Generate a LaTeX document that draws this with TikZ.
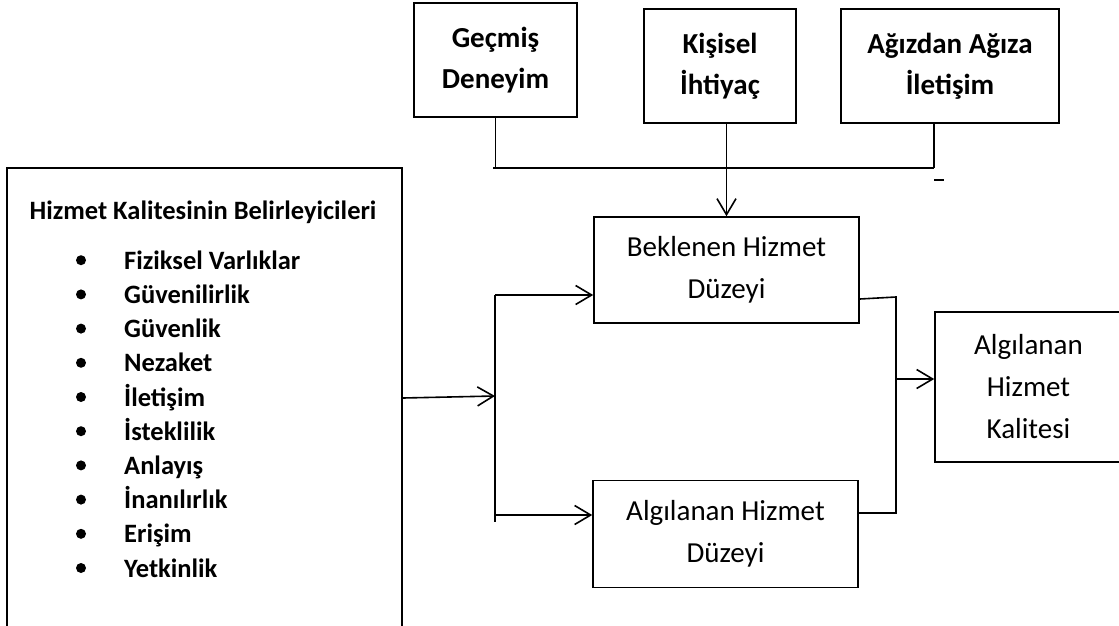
\documentclass[tikz,border=0pt]{standalone}
\usepackage{fontspec}
\setmainfont{Carlito}
\usetikzlibrary{arrows.meta, positioning, calc}
\tikzset{
  box/.style={rectangle, draw=black, line width=1.6pt, align=center, inner sep=0pt, font=\fontsize{29}{42}\selectfont},
  topbox/.style={box, font=\bfseries\fontsize{29}{41}\selectfont},
  item/.style={anchor=base west, inner sep=0pt, font=\bfseries\fontsize{26.5}{32}\selectfont},
  line/.style={line width=1.6pt},
  arrow/.style={line, -{Straight Barb[length=16pt, width=19pt, line width=1.6pt]}}
}
\begin{document}
\begin{tikzpicture}[x=1pt, y=-1pt]
\useasboundingbox (0,0) rectangle (1119,625);
% top row
\node (gecmis) [topbox, minimum width=163pt, minimum height=114pt] at (495.5,60) {Geçmiş\\Deneyim};
\node (kisisel) [topbox, minimum width=152pt, minimum height=114pt] at (720,66) {Kişisel\\İhtiyaç};
\node (agiz) [topbox, minimum width=218pt, minimum height=114pt] at (950,66) {Ağızdan Ağıza\\İletişim};

% middle boxes
\node (beklenen) [box, minimum width=265pt, minimum height=106pt] at (726.5,270) {Beklenen Hizmet\\Düzeyi};
\node (algdz) [box, minimum width=265pt, minimum height=107pt] at (725.5,534) {Algılanan Hizmet\\Düzeyi};
\node (kalite) [box, minimum width=187pt, minimum height=150pt] at (1028.5,387) {Algılanan\\Hizmet\\Kalitesi};

% left box with list
\node (belir) [box, minimum width=395pt, minimum height=472pt] at (204.5,404) {};
\node (baslik) [font=\bfseries\fontsize{26.5}{32}\selectfont, inner sep=0pt] at (203,212) {Hizmet Kalitesinin Belirleyicileri};
\foreach \ad [count=\i] in {Fiziksel Varlıklar, Güvenilirlik, Güvenlik, Nezaket, İletişim, İsteklilik, Anlayış, İnanılırlık, Erişim, Yetkinlik} {
  \fill (81, 226+34.2*\i) circle (5pt);
  \node (m\i) [item] at (124, 235+34.2*\i) {\ad};
}

% joins
\coordinate (hl) at (493,168);
\coordinate (hr) at (934,168);
\draw[line] (hl) -- (hr);
\draw[line] (gecmis.south) -- (gecmis.south |- hl);
\draw[line] (hr |- agiz.south) -- (hr);
\coordinate (dash) at (934,180);
\draw[line] (dash) -- ++(10,0);
\draw[arrow] (beklenen.north |- kisisel.south) -- (beklenen.north);

\coordinate (split) at (495,396);
\coordinate (b1) at (495,295);
\coordinate (b2) at (495,515);
\draw[arrow] (belir.east |- 0,398) -- (split);
\draw[line] (b1) -- (495,522);
\draw[arrow] (b1) -- (b1 -| beklenen.west);
\draw[arrow] (b2) -- (b2 -| algdz.west);

\coordinate (j) at (896,297);
\coordinate (m) at (896,379);
\draw[line] (beklenen.east |- 0,299) -- (j) -- (j |- 0,513) -- (algdz.east |- 0,513);
\draw[arrow] (m) -- (m -| kalite.west);
\end{tikzpicture}
\end{document}
